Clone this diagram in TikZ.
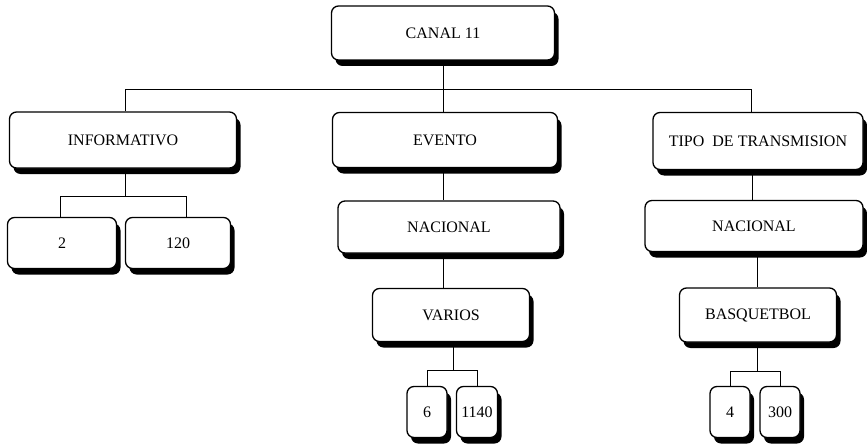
\documentclass[tikz,border=0pt]{standalone}
\usepackage{fontspec}
\setmainfont{Liberation Serif}
\usetikzlibrary{shadows,calc}
\begin{document}
\begin{tikzpicture}[x=1pt,y=-1pt,
  box/.style={draw=black, line width=1.3pt, rounded corners=7pt, fill=white,
    inner sep=0pt, font=\fontsize{16}{18}\selectfont,
    drop shadow={shadow xshift=4pt, shadow yshift=-6pt, opacity=1, fill=black}},
  link/.style={draw=black, line width=1pt}]
\useasboundingbox (0,0) rectangle (867,444);
% nodes
\node[box, minimum width=223pt, minimum height=54pt] (canal) at (443,33) {CANAL 11};
\node[box, minimum width=227pt, minimum height=56pt] (inf) at (123,140) {INFORMATIVO};
\node[box, minimum width=225pt, minimum height=55pt] (evento) at (445,140) {EVENTO};
\node[box, minimum width=210pt, minimum height=57pt] (tipo) at (758,141) {TIPO\ \ DE TRANSMISION};
\node[box, minimum width=222pt, minimum height=52pt] (nac1) at (449,227) {NACIONAL};
\node[box, minimum width=218pt, minimum height=51pt] (nac2) at (754,226) {NACIONAL};
\node[box, minimum width=157pt, minimum height=53pt] (varios) at (451,315) {VARIOS};
\node[box, minimum width=157pt, minimum height=54pt] (basq) at (758,315) {BASQUETBOL};
\node[box, minimum width=109pt, minimum height=51pt] (b2) at (62,243) {2};
\node[box, minimum width=105pt, minimum height=51pt] (b120) at (178,243) {120};
\node[box, minimum width=40pt, minimum height=51pt] (b6) at (427,412) {6};
\node[box, minimum width=41pt, minimum height=51pt] (b1140) at (477,412) {1140};
\node[box, minimum width=40pt, minimum height=51pt] (b4) at (730,412) {4};
\node[box, minimum width=40pt, minimum height=51pt] (b300) at (780,412) {300};
% trunk coordinates
\coordinate (bus) at (0,89);
\coordinate (busI) at (0,196);
\coordinate (busV) at (0,370);
\coordinate (busB) at (0,371);
\coordinate (tInf) at (125,0);
\coordinate (tEv) at (443,0);
\coordinate (tTipo) at (751,0);
\coordinate (tT2) at (752,0);
\coordinate (tB) at (757,0);
\coordinate (tV) at (453,0);
\coordinate (d2) at (60,0);
\coordinate (d120) at (186,0);
% connectors
\draw[link] (canal.south -| tEv) -- (tEv |- bus);
\draw[link] (inf.north -| tInf) -- (tInf |- bus) -- (tTipo |- bus) -- (tipo.north -| tTipo);
\draw[link] (tEv |- bus) -- (evento.north -| tEv);
\draw[link] (evento.south -| tEv) -- (nac1.north -| tEv);
\draw[link] (nac1.south -| tEv) -- (varios.north -| tEv);
\draw[link] (varios.south -| tV) -- (tV |- busV);
\draw[link] (b6.north) |- (b1140.north |- busV) -- (b1140.north);
\draw[link] (tipo.south -| tT2) -- (nac2.north -| tT2);
\draw[link] (nac2.south -| tB) -- (basq.north -| tB);
\draw[link] (basq.south -| tB) -- (tB |- busB);
\draw[link] (b4.north) |- (b300.north |- busB) -- (b300.north);
\draw[link] (inf.south -| tInf) -- (tInf |- busI);
\draw[link] (b2.north -| d2) |- (d120 |- busI) -- (b120.north -| d120);
\end{tikzpicture}
\end{document}
